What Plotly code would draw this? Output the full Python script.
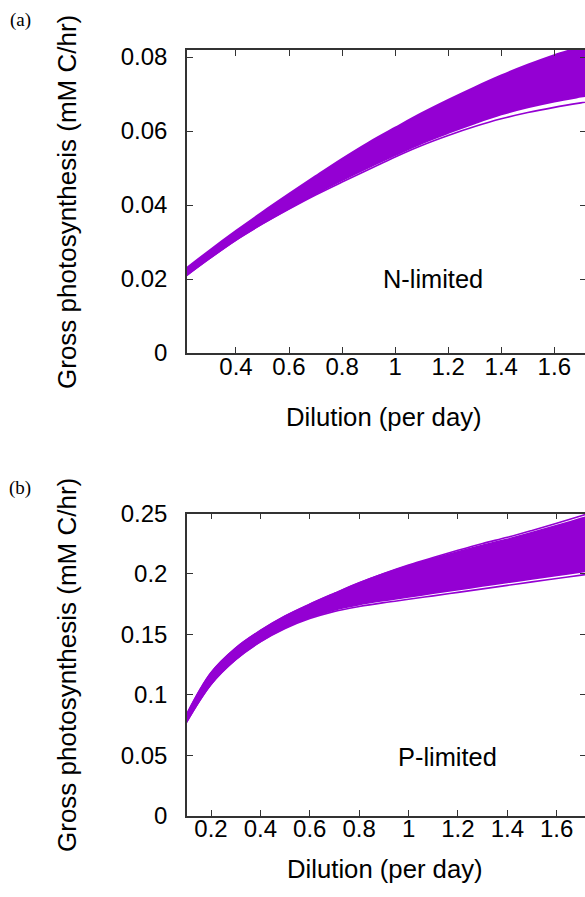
import plotly.graph_objects as go

# ---------------- data ----------------
dilution = [0.1, 0.2, 0.3, 0.4, 0.5, 0.6, 0.7, 0.8, 0.9, 1.0, 1.1, 1.2, 1.3, 1.4, 1.5, 1.6, 1.7, 1.8]

# Panel (a) N-limited, x from 0.2
dilution_a = dilution[1:]
n_upper = [0.0222, 0.0277, 0.0330, 0.0381, 0.0430, 0.0478, 0.0525, 0.0569, 0.0609, 0.0648,
           0.0684, 0.0718, 0.0750, 0.0779, 0.0805, 0.0827, 0.0848]
n_lower = [0.0203, 0.0256, 0.0306, 0.0350, 0.0391, 0.0430, 0.0467, 0.0502, 0.0535, 0.0567,
           0.0595, 0.0621, 0.0645, 0.0664, 0.0680, 0.0693, 0.0705]
n_lowest = [0.0202, 0.0255, 0.0305, 0.0349, 0.0389, 0.0427, 0.0462, 0.0496, 0.0530, 0.0561,
            0.0588, 0.0612, 0.0633, 0.0650, 0.0664, 0.0676, 0.0687]

# Panel (b) P-limited
p_top = [0.0830, 0.1180, 0.1385, 0.1530, 0.1650, 0.1748, 0.1838, 0.1925, 0.2003, 0.2073,
         0.2135, 0.2195, 0.2252, 0.2303, 0.2360, 0.2420, 0.2482, 0.2545]
p_upper = [0.0830, 0.1180, 0.1385, 0.1530, 0.1650, 0.1748, 0.1838, 0.1925, 0.2000, 0.2066,
           0.2125, 0.2182, 0.2236, 0.2285, 0.2340, 0.2398, 0.2458, 0.2518]
p_lower = [0.0772, 0.1088, 0.1294, 0.1442, 0.1555, 0.1640, 0.1703, 0.1747, 0.1781, 0.1811,
           0.1841, 0.1871, 0.1901, 0.1931, 0.1960, 0.1989, 0.2018, 0.2046]
p_lowest = [0.0770, 0.1085, 0.1290, 0.1437, 0.1548, 0.1630, 0.1690, 0.1730, 0.1762, 0.1790,
            0.1818, 0.1847, 0.1876, 0.1905, 0.1934, 0.1962, 0.1990, 0.2017]

xticks_a = [0.4, 0.6, 0.8, 1.0, 1.2, 1.4, 1.6, 1.8]
xticks_b = [0.2, 0.4, 0.6, 0.8, 1.0, 1.2, 1.4, 1.6, 1.8]
yticks_a = [0, 0.02, 0.04, 0.06, 0.08]
yticks_b = [0, 0.05, 0.1, 0.15, 0.2, 0.25]

xlabel = "Dilution (per day)"
ylabel = "Gross photosynthesis (mM C/hr)"

# ---------------- styling ----------------
W, H = 586, 897          # one px wider than the window: right frame just outside
PURPLE = "#9400D3"
AX = "#333333"
SANS = "Liberation Sans, Arial, Helvetica, sans-serif"
SERIF = "Liberation Serif, DejaVu Serif, serif"


def px(p):   # page x -> paper
    return p / W


def py(p):   # page y -> paper
    return 1 - p / H


fig = go.Figure()


def add_band(x, up, lo, xa, ya):
    fig.add_trace(go.Scatter(x=x, y=up, mode="lines",
                             line=dict(color=PURPLE, width=2, shape="spline"),
                             xaxis=xa, yaxis=ya, showlegend=False, hoverinfo="skip"))
    fig.add_trace(go.Scatter(x=x, y=lo, mode="lines",
                             line=dict(color=PURPLE, width=2, shape="spline"),
                             fill="tonexty", fillcolor=PURPLE,
                             xaxis=xa, yaxis=ya, showlegend=False, hoverinfo="skip"))


def add_line(x, y, xa, ya):
    fig.add_trace(go.Scatter(x=x, y=y, mode="lines",
                             line=dict(color=PURPLE, width=1.6, shape="spline"),
                             xaxis=xa, yaxis=ya, showlegend=False, hoverinfo="skip"))


add_line(dilution_a, n_lowest, "x", "y")
add_band(dilution_a, n_upper, n_lower, "x", "y")

add_line(dilution, p_lowest, "x2", "y2")
add_line(dilution, p_top, "x2", "y2")
add_band(dilution, p_upper, p_lower, "x2", "y2")

axis_common = dict(showline=True, linecolor=AX, linewidth=1.5, mirror="ticks",
                   ticks="inside", ticklen=6, tickwidth=1.2, tickcolor=AX,
                   showgrid=False, zeroline=False, automargin=False,
                   tickfont=dict(family=SANS, size=24, color="black"))

fig.update_layout(
    width=W, height=H, autosize=False,
    margin=dict(l=0, r=0, t=0, b=0),
    paper_bgcolor="white", plot_bgcolor="white",
    xaxis=dict(domain=[px(187), 1], range=[0.2153, 1.7195], tickvals=xticks_a,
               ticktext=[f"{v:g}" for v in xticks_a], anchor="y",
               ticklabelstandoff=-9, **axis_common),
    yaxis=dict(domain=[py(353), py(50)], range=[0, 0.0819], tickvals=yticks_a,
               ticktext=[f"{v:g}" for v in yticks_a], anchor="x",
               ticklabelstandoff=13, **axis_common),
    xaxis2=dict(domain=[px(187), 1], range=[0.1028, 1.7186], tickvals=xticks_b,
                ticktext=[f"{v:g}" for v in xticks_b], anchor="y2",
                ticklabelstandoff=-9, **axis_common),
    yaxis2=dict(domain=[py(815.5), py(513.5)], range=[0, 0.25], tickvals=yticks_b,
                ticktext=[f"{v:g}" for v in yticks_b], anchor="x2",
                ticklabelstandoff=13, **axis_common),
)


def ann(text, x, y, size, family=SANS, angle=0):
    fig.add_annotation(text=text, x=px(x), y=py(y), xref="paper", yref="paper",
                       showarrow=False, textangle=angle, xanchor="center", yanchor="middle",
                       font=dict(family=family, size=size, color="black"))


ann(ylabel, 67, 202, 26, angle=-90)
ann(ylabel, 67, 665, 26, angle=-90)
ann(xlabel, 384, 417, 25.7)
ann(xlabel, 385, 869, 25.7)
ann("(a)", 20, 20, 19, family=SERIF)
ann("(b)", 20, 488, 19, family=SERIF)
ann("N-limited", 433, 279, 25.4)
ann("P-limited", 447, 757, 25.4)

fig.write_html(
    "out.html",
    config={"displayModeBar": False},
    post_script="document.body.style.margin='0';document.body.style.overflow='hidden';",
)
